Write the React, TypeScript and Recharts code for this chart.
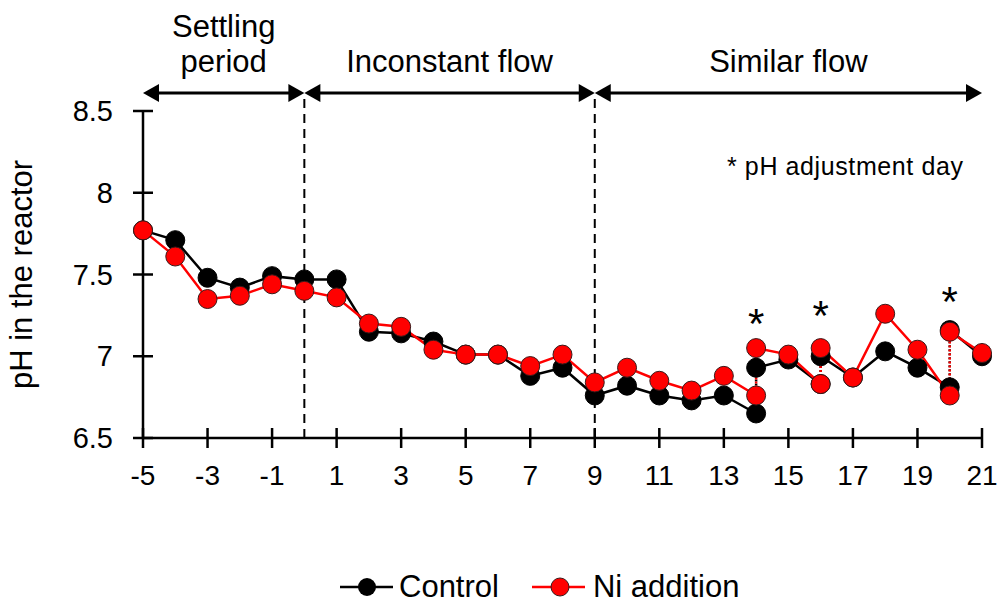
import React from 'react';
import { LineChart, Line, XAxis, YAxis, ReferenceLine, ReferenceDot } from 'recharts';

const days = [-5, -4, -3, -2, -1, 0, 1, 2, 3, 4, 5, 6, 7, 8, 9, 10, 11, 12, 13, 14, 15, 16, 17, 18, 19, 20, 21];
const controlPH = [7.77, 7.71, 7.48, 7.42, 7.49, 7.47, 7.47, 7.15, 7.14, 7.09, 7.01, 7.01, 6.88, 6.93, 6.76, 6.82, 6.76, 6.73, 6.76, 6.65, 6.98, 6.83, 6.87, 7.03, 6.93, 6.81, 7.0];
const niPH = [7.77, 7.61, 7.35, 7.37, 7.44, 7.4, 7.36, 7.2, 7.18, 7.04, 7.01, 7.01, 6.94, 7.01, 6.84, 6.93, 6.85, 6.79, 6.88, 6.76, 7.01, 6.83, 6.87, 7.26, 7.04, 6.76, 7.02];

// pH adjustment days: value after adjustment
const adjustDays = [14, 16, 20];
const controlAdjusted = [6.93, 7.0, 7.16];
const niAdjusted = [7.05, 7.05, 7.15];
const asteriskPH = [7.26, 7.31, 7.39];

const xTicks = [-5, -3, -1, 1, 3, 5, 7, 9, 11, 13, 15, 17, 19, 21];
const yTicks = [6.5, 7, 7.5, 8, 8.5];

const periods = [
  { label: ['Settling', 'period'], start: -5, end: 0 },
  { label: ['Inconstant flow'], start: 0, end: 9 },
  { label: ['Similar flow'], start: 9, end: 21 },
];
const periodBreaks = [0, 9];

const FONT = 'Arial, "Liberation Sans", sans-serif';

function buildSegments(values: number[], adjusted: number[]) {
  const solid: { x: number; y: number }[][] = [];
  let current: { x: number; y: number }[] = [];
  days.forEach((d, i) => {
    current.push({ x: d, y: values[i] });
    const k = adjustDays.indexOf(d);
    if (k >= 0) {
      solid.push(current);
      current = [{ x: d, y: adjusted[k] }];
    }
  });
  solid.push(current);
  const dotted = adjustDays.map((d, k) => [
    { x: d, y: values[days.indexOf(d)] },
    { x: d, y: adjusted[k] },
  ]);
  return { solid, dotted };
}

const control = buildSegments(controlPH, controlAdjusted);
const ni = buildSegments(niPH, niAdjusted);

const YTick = ({ x, y, payload }: any) => (
  <g>
    <line x1={x - 10} x2={x + 10} y1={y} y2={y} stroke="#000" strokeWidth={2.5} />
    <text x={x - 30} y={y} dy={10} textAnchor="end" fontSize={29} fontFamily={FONT} fill="#000">
      {payload.value}
    </text>
  </g>
);

const XTick = ({ x, y, payload }: any) => (
  <g>
    <line x1={x} x2={x} y1={y - 10} y2={y + 10} stroke="#000" strokeWidth={2.5} />
    <text x={x} y={y + 47} textAnchor="middle" fontSize={28} fontFamily={FONT} fill="#000">
      {payload.value}
    </text>
  </g>
);

const PeriodArrow = ({ x1, y1, x2, lines }: any) => {
  const h = 9;
  const len = 16;
  const mid = (x1 + x2) / 2;
  return (
    <g>
      <line x1={x1 + 4} x2={x2 - 4} y1={y1} y2={y1} stroke="#000" strokeWidth={3} />
      <polygon points={`${x1},${y1} ${x1 + len},${y1 - h} ${x1 + len},${y1 + h}`} fill="#000" />
      <polygon points={`${x2},${y1} ${x2 - len},${y1 - h} ${x2 - len},${y1 + h}`} fill="#000" />
      {lines.map((t: string, i: number) => (
        <text
          key={t}
          x={mid}
          y={y1 - 21 - (lines.length - 1 - i) * 35}
          textAnchor="middle"
          fontSize={31}
          fontFamily={FONT}
          fill="#000"
        >
          {t}
        </text>
      ))}
    </g>
  );
};

const Asterisk = ({ cx, cy }: any) => (
  <text x={cx} y={cy + 24} textAnchor="middle" fontSize={42} fontFamily={FONT} fill="#000">
    *
  </text>
);

export default function App() {
  return (
    <div style={{ position: 'absolute', left: 0, top: 0, width: 1001, height: 602, background: '#fff' }}>
      <LineChart width={1001} height={602} margin={{ top: 111, right: 19, bottom: 134, left: 83 }}>
        <XAxis
          type="number"
          dataKey="x"
          domain={[-5, 21]}
          ticks={xTicks}
          interval={0}
          height={30}
          tickSize={0}
          tickMargin={0}
          tickLine={false}
          tick={<XTick />}
          axisLine={{ stroke: '#000', strokeWidth: 2.5 }}
        />
        <YAxis
          type="number"
          dataKey="y"
          domain={[6.5, 8.5]}
          ticks={yTicks}
          interval={0}
          width={60}
          tickSize={0}
          tickMargin={0}
          tickLine={false}
          tick={<YTick />}
          axisLine={{ stroke: '#000', strokeWidth: 2.5 }}
          label={{
            value: 'pH in the reactor',
            angle: -90,
            position: 'insideLeft',
            offset: -62,
            style: { fontSize: 31, fontFamily: FONT, fill: '#000', textAnchor: 'middle' },
          }}
        />
        {periodBreaks.map((b) => (
          <ReferenceLine
            key={`break-${b}`}
            segment={[{ x: b, y: 6.5 }, { x: b, y: 8.59 }]}
            ifOverflow="visible"
            stroke="#000"
            strokeWidth={2}
            strokeDasharray="9 6"
          />
        ))}
        {periods.map((p) => (
          <ReferenceLine
            key={p.label.join(' ')}
            segment={[{ x: p.start, y: 8.61 }, { x: p.end, y: 8.61 }]}
            ifOverflow="visible"
            shape={(props: any) => <PeriodArrow {...props} lines={p.label} />}
          />
        ))}
        {control.solid.map((seg, i) => (
          <Line
            key={`c-${i}`}
            data={seg}
            dataKey="y"
            stroke="#000"
            strokeWidth={2.5}
            dot={{ r: 9.5, fill: '#000', stroke: '#000', strokeWidth: 1 }}
            isAnimationActive={false}
          />
        ))}
        {control.dotted.map((seg, i) => (
          <Line
            key={`cd-${i}`}
            data={seg}
            dataKey="y"
            stroke="#000"
            strokeWidth={2.5}
            strokeDasharray="2 2"
            dot={false}
            isAnimationActive={false}
          />
        ))}
        {ni.solid.map((seg, i) => (
          <Line
            key={`n-${i}`}
            data={seg}
            dataKey="y"
            stroke="#FF0000"
            strokeWidth={2.5}
            dot={{ r: 9.5, fill: '#FF0000', stroke: '#3a1a1a', strokeWidth: 1 }}
            isAnimationActive={false}
          />
        ))}
        {ni.dotted.map((seg, i) => (
          <Line
            key={`nd-${i}`}
            data={seg}
            dataKey="y"
            stroke="#FF0000"
            strokeWidth={2.5}
            strokeDasharray="2 2"
            dot={false}
            isAnimationActive={false}
          />
        ))}
        {adjustDays.map((d, i) => (
          <ReferenceDot key={`ast-${d}`} x={d} y={asteriskPH[i]} r={0} ifOverflow="visible" shape={<Asterisk />} />
        ))}
      </LineChart>
      <div
        style={{
          position: 'absolute',
          left: 727,
          top: 152,
          fontSize: 25,
          fontFamily: FONT,
          letterSpacing: 0.6,
          whiteSpace: 'nowrap',
        }}
      >
        * pH adjustment day
      </div>
      <div
        style={{
          position: 'absolute',
          left: 340,
          top: 569,
          display: 'flex',
          alignItems: 'center',
          fontSize: 31,
          fontFamily: FONT,
          whiteSpace: 'nowrap',
        }}
      >
        <svg width={53} height={24}>
          <line x1={0} x2={53} y1={12} y2={12} stroke="#000" strokeWidth={2.5} />
          <circle cx={27} cy={12} r={9} fill="#000" />
        </svg>
        <span style={{ marginLeft: 6, marginRight: 33 }}>Control</span>
        <svg width={53} height={24}>
          <line x1={0} x2={53} y1={12} y2={12} stroke="#FF0000" strokeWidth={2.5} />
          <circle cx={28} cy={12} r={9} fill="#FF0000" stroke="#3a1a1a" strokeWidth={1} />
        </svg>
        <span style={{ marginLeft: 8 }}>Ni addition</span>
      </div>
    </div>
  );
}
